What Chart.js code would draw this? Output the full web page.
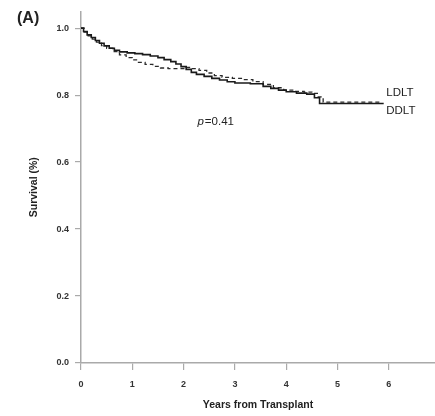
<!DOCTYPE html>
<html>
<head>
<meta charset="utf-8">
<script src="https://cdn.jsdelivr.net/npm/chart.js@4/dist/chart.umd.min.js"></script>
<style>
  html, body { margin: 0; padding: 0; background: #fff; overflow: hidden; }
  #wrap { position: relative; width: 435px; height: 416px; }
</style>
</head>
<body>
<div id="wrap"><canvas id="km"></canvas></div>
<script>
// ─── DATA ────────────────────────────────────────────────────────────────
var xTicks = [0, 1, 2, 3, 4, 5, 6];
var yTicks = [0, 0.2, 0.4, 0.6, 0.8, 1.0];

// solid curve
var ddltYears = [0, 0.05, 0.12, 0.2, 0.28, 0.36, 0.45, 0.55, 0.65, 0.75, 0.9, 1.05, 1.2, 1.35, 1.5, 1.62, 1.75, 1.85, 1.95, 2.05, 2.15, 2.25, 2.4, 2.55, 2.7, 2.85, 3.0, 3.3, 3.55, 3.7, 3.85, 4.0, 4.2, 4.4, 4.55, 4.65, 5.9];
var ddltSurv  = [1.0, 0.99, 0.98, 0.972, 0.963, 0.955, 0.947, 0.94, 0.934, 0.929, 0.926, 0.924, 0.921, 0.917, 0.912, 0.906, 0.9, 0.893, 0.885, 0.877, 0.868, 0.862, 0.856, 0.85, 0.845, 0.84, 0.836, 0.834, 0.826, 0.82, 0.815, 0.81, 0.806, 0.803, 0.792, 0.775, 0.775];

// dashed curve
var ldltYears = [0, 0.06, 0.14, 0.22, 0.3, 0.4, 0.5, 0.62, 0.75, 0.88, 1.0, 1.12, 1.25, 1.4, 1.55, 1.7, 1.9, 2.05, 2.15, 2.3, 2.45, 2.6, 2.75, 2.95, 3.15, 3.35, 3.55, 3.75, 3.95, 4.15, 4.35, 4.5, 4.62, 4.72, 5.85];
var ldltSurv  = [1.0, 0.988, 0.977, 0.967, 0.958, 0.948, 0.94, 0.93, 0.92, 0.912, 0.905, 0.898, 0.892, 0.886, 0.881, 0.879, 0.879, 0.883, 0.879, 0.874, 0.866, 0.858, 0.853, 0.85, 0.846, 0.84, 0.832, 0.822, 0.815, 0.811, 0.809, 0.805, 0.795, 0.779, 0.779];

function toPoints(xs, ys) {
    return xs.map(function (x, i) { return { x: x, y: ys[i] }; });
}

// ─── ANNOTATIONS (panel letter, p-value, curve labels) ────────────────────
var textPlugin = {
    id: 'textPlugin',
    afterDraw: function (chart) {
        var ctx = chart.ctx;
        var xs = chart.scales.x, ys = chart.scales.y;
        ctx.save();
        ctx.fillStyle = '#222';
        ctx.textBaseline = 'middle';
        ctx.textAlign = 'left';
        ctx.font = 'bold 16px "Liberation Sans", Arial, sans-serif';
        ctx.fillText('(A)', 17, 19);
        ctx.font = '11.5px "Liberation Sans", Arial, sans-serif';
        ctx.fillText('LDLT', xs.getPixelForValue(5.95), ys.getPixelForValue(0.808));
        ctx.fillText('DDLT', xs.getPixelForValue(5.95), ys.getPixelForValue(0.752));
        ctx.font = 'italic 11.5px "Liberation Sans", Arial, sans-serif';
        var px = xs.getPixelForValue(2.27), py = ys.getPixelForValue(0.72);
        ctx.fillText('p', px, py);
        ctx.font = '11.5px "Liberation Sans", Arial, sans-serif';
        ctx.fillText('=0.41', px + ctx.measureText('p').width + 1, py);
        ctx.restore();
    }
};

var tickFont = { family: '"Liberation Sans", Arial, sans-serif', size: 9, weight: 'bold' };
var titleFont = { family: '"Liberation Sans", Arial, sans-serif', size: 10.5, weight: 'bold' };

new Chart(document.getElementById('km').getContext('2d'), {
    type: 'line',
    data: {
        datasets: [
            {
                label: 'DDLT', data: toPoints(ddltYears, ddltSurv),
                borderColor: '#1a1a1a', borderWidth: 1.6, stepped: 'before',
                pointRadius: 0, fill: false
            },
            {
                label: 'LDLT', data: toPoints(ldltYears, ldltSurv),
                borderColor: '#2a2a2a', borderWidth: 1.3, borderDash: [4, 3], stepped: 'before',
                pointRadius: 0, fill: false
            }
        ]
    },
    options: {
        responsive: true, maintainAspectRatio: false, animation: false,
        layout: { padding: { top: 11, right: 0, left: 0, bottom: 0 } },
        plugins: { legend: { display: false }, tooltip: { enabled: false } },
        scales: {
            x: {
                type: 'linear', min: 0, max: 6.9,
                afterFit: function (s) { s.height = 53; },
                afterBuildTicks: function (s) { s.ticks = xTicks.map(function (v) { return { value: v }; }); },
                border: { color: '#aaa', width: 1.5 },
                grid: { drawOnChartArea: false, drawTicks: true, tickLength: 7, color: '#aaa', lineWidth: 1.2 },
                ticks: { color: '#333', font: tickFont, padding: 9, maxRotation: 0 },
                title: { display: true, text: 'Years from Transplant', color: '#222', font: titleFont, padding: { top: 0, bottom: 5 } }
            },
            y: {
                type: 'linear', min: 0, max: 1.05,
                afterFit: function (s) { s.width = 81; },
                afterBuildTicks: function (s) { s.ticks = yTicks.map(function (v) { return { value: v }; }); },
                border: { color: '#aaa', width: 1.5 },
                grid: { drawOnChartArea: false, drawTicks: true, tickLength: 6, color: '#aaa', lineWidth: 1.2 },
                ticks: { color: '#333', font: tickFont, padding: 6, callback: function (v) { return Number(v).toFixed(1); } },
                title: { display: true, text: 'Survival (%)', color: '#222', font: titleFont, padding: { top: 28, bottom: 0 } }
            }
        }
    },
    plugins: [textPlugin]
});
</script>
</body>
</html>
